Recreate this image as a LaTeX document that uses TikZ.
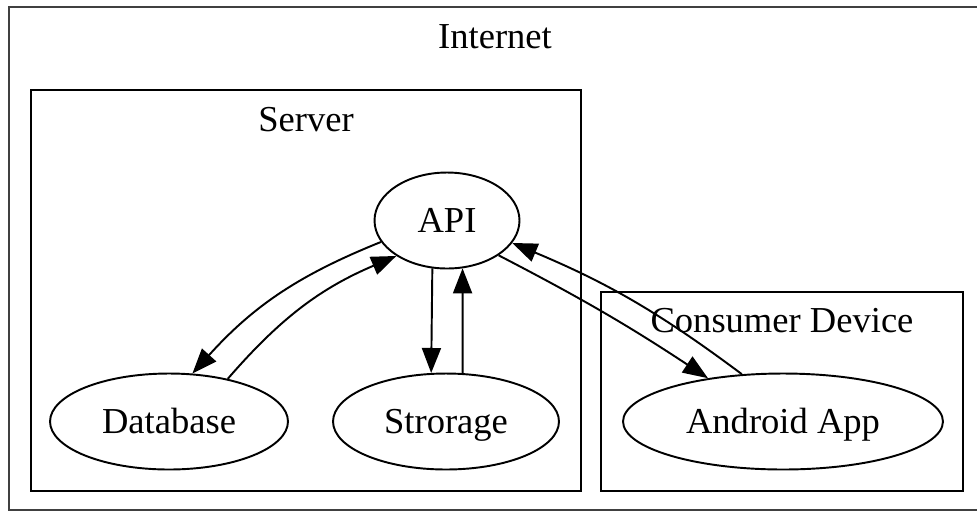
\documentclass[tikz,border=0pt]{standalone}
\usepackage{fontspec}
\setmainfont{Liberation Serif}
\usetikzlibrary{arrows.meta,shapes.geometric}

\begin{document}
\begin{tikzpicture}[
    x=0.02cm, y=-0.02cm,
    >={Triangle[length=0.5cm, width=0.38cm]},
    every node/.style={font=\fontsize{20.8}{25}\selectfont},
    svc/.style={draw, ellipse, line width=1.1pt, inner sep=0pt,
                text height=0.5cm, text depth=0.04cm,
                minimum height=1.92cm, minimum width=#1},
    cluster/.style={draw, line width=1.3pt},
    arr/.style={->, line width=1.1pt},
  ]
  \useasboundingbox (0,0) rectangle (977,512);
  \clip (0,0) rectangle (977,512);

  % Clusters
  \draw[cluster, black!75] (9,7) rectangle (982,510);
  \node[anchor=base] (internet) at (495,48) {Internet};
  \draw[cluster] (31,90) rectangle (581,491);
  \node[anchor=base] (server) at (306,131) {Server};
  \draw[cluster] (601,292) rectangle (963,491);
  \node[anchor=base] (device) at (782,332) {Consumer Device};

  % Services
  \node[svc=2.9cm] (api) at (447,220.5) {API};
  \node[svc=4.76cm] (db) at (169,421.5) {Database};
  \node[svc=4.52cm] (sto) at (446,421.5) {Strorage};
  \node[svc=6.4cm] (app) at (783,421.5) {Android App};

  \draw[arr] (api.198) to[bend right=13] (db.64);
  \draw[arr] (db.36) to[bend left=13] (api.215);
  \draw[arr] (api.253) -- (sto.107);
  \draw[arr] (sto.71) -- (api.288);
  \draw[arr] (api.326) to[bend left=3] (app.150);
  \draw[arr] (app.131) to[bend right=7] (api.341);
\end{tikzpicture}
\end{document}
